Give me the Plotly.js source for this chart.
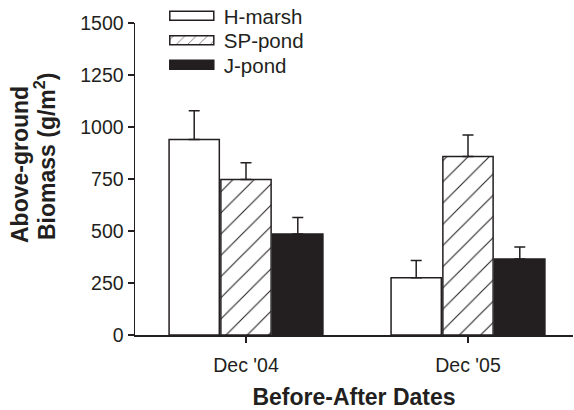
<!DOCTYPE html>
<html>
<head>
<meta charset="utf-8">
<script src="https://cdn.plot.ly/plotly-3.0.1.min.js"></script>
<style>html,body{margin:0;padding:0;background:#fff;}#chart{width:574px;height:410px;}</style>
</head>
<body>
<div id="chart"></div>
<script>
var categories = ["Dec '04", "Dec '05"];
var seriesNames = ["H-marsh", "SP-pond", "J-pond"];
var hMarsh = [940, 275];
var hMarshErr = [138, 83];
var spPond = [748, 858];
var spPondErr = [80, 103];
var jPond = [485, 365];
var jPondErr = [80, 58];
var yTicks = [0, 250, 500, 750, 1000, 1250, 1500];

var ink = '#231f20';
var font = 'Liberation Sans, Arial, Helvetica, sans-serif';

function err(arr) {
  return {type: 'data', symmetric: false, array: arr, arrayminus: arr.map(function(){return 0;}),
          color: ink, thickness: 1.5, width: 5.5};
}

var traces = [
  {type: 'bar', name: seriesNames[0], legend: 'legend', x: categories, y: hMarsh, error_y: err(hMarshErr),
   marker: {color: '#ffffff', line: {color: ink, width: 1.5}}},
  {type: 'bar', name: seriesNames[1], legend: 'legend2', x: categories, y: spPond, error_y: err(spPondErr),
   marker: {color: '#ffffff', line: {color: ink, width: 1.5},
            pattern: {shape: '/', size: 15, solidity: 0.07, fgcolor: ink, bgcolor: '#ffffff'}}},
  {type: 'bar', name: seriesNames[2], legend: 'legend3', x: categories, y: jPond, error_y: err(jPondErr),
   marker: {color: ink, line: {color: ink, width: 1.5}}}
];

function leg(y) {
  return {x: 0.0566, xanchor: 'left', y: y, yanchor: 'middle', bgcolor: 'rgba(0,0,0,0)',
          font: {size: 20.5, color: ink, family: font}, itemwidth: 54};
}

var layout = {
  width: 574, height: 410,
  margin: {l: 135, r: 1, t: 23, b: 75, autoexpand: false},
  paper_bgcolor: '#ffffff', plot_bgcolor: '#ffffff',
  font: {family: font, color: ink, size: 19.5},
  barmode: 'group', bargap: 0.3, bargroupgap: 0.03,
  showlegend: true,
  legend: leg(1.0224),
  legend2: leg(0.9439),
  legend3: leg(0.8654),
  xaxis: {type: 'category', range: [-0.5, 1.473], showline: true, linecolor: ink, linewidth: 1.5,
          ticks: 'outside', ticklen: 6, tickwidth: 1.5, tickcolor: ink, showgrid: false, zeroline: false,
          tickfont: {size: 19.5, color: ink}, ticklabelstandoff: 6,
          title: {text: '<b>Before-After Dates</b>', font: {size: 23, color: ink}, standoff: 14}},
  yaxis: {range: [0, 1500], tickvals: yTicks, ticktext: yTicks.map(String), showline: true, linecolor: ink, linewidth: 1.5,
          ticks: 'outside', ticklen: 6, tickwidth: 1.5, tickcolor: ink, showgrid: false, zeroline: false,
          tickfont: {size: 19.5, color: ink}},
  annotations: [
    {text: '<b>Above-ground</b>', xref: 'paper', yref: 'paper',
     x: (20 - 135) / 438, y: (335 - 165) / 312, xanchor: 'center', yanchor: 'middle', textangle: -90, showarrow: false,
     font: {size: 23, color: ink, family: font}},
    {text: '<b>Biomass (g/m<sup>2</sup>)</b>', xref: 'paper', yref: 'paper',
     x: (45 - 135) / 438, y: (335 - 157) / 312, xanchor: 'center', yanchor: 'middle', textangle: -90, showarrow: false,
     font: {size: 23, color: ink, family: font}}
  ]
};

var gdRef = document.getElementById('chart');
function fixLegend() {
  var paths = gdRef.querySelectorAll('g.legendpoints path');
  paths.forEach(function(p){
    var d = p.getAttribute('d') || '';
    if (d.indexOf('M6,6H-6V-6H6Z') === 0 || p.getAttribute('data-fixed')) {
      p.setAttribute('d', 'M22,4.5H-22V-4.5H22Z');
      p.setAttribute('data-fixed', '1');
    }
  });
}

Plotly.newPlot('chart', traces, layout, {displayModeBar: false, staticPlot: true}).then(function(gd){
  fixLegend();
  gd.on && gd.on('plotly_afterplot', fixLegend);
  setTimeout(fixLegend, 30);
  setTimeout(fixLegend, 200);
  setTimeout(fixLegend, 600);
});
</script>
</body>
</html>
